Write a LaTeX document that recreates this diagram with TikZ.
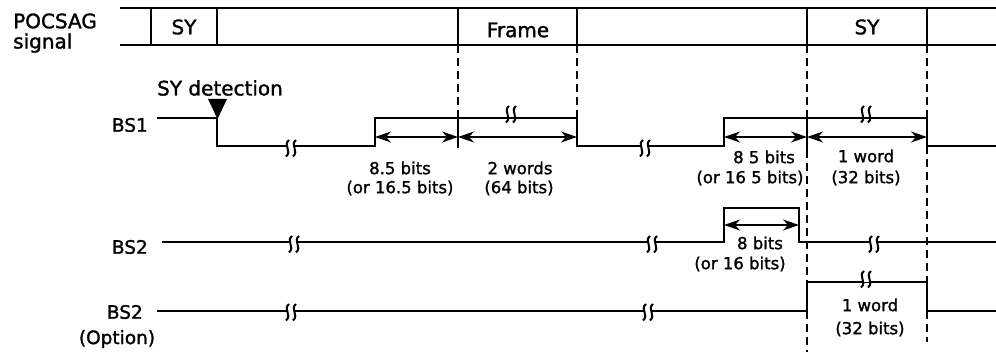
\documentclass[tikz,border=0pt]{standalone}
\usepackage{fontspec}
\setmainfont{DejaVu Sans}[FakeBold=1.4]
\usetikzlibrary{arrows.meta}
\begin{document}
\begin{tikzpicture}[x=1pt,y=-1pt,
  sig/.style={line width=2.1pt},
  band/.style={line width=1.9pt},
  dsh/.style={line width=1.7pt, dash pattern=on 8pt off 5pt},
  dim/.style={line width=1.6pt,{Stealth[length=16pt,width=11pt,inset=5pt]}-{Stealth[length=16pt,width=11pt,inset=5pt]}},
  big/.style={font=\fontsize{20}{22}\selectfont, inner sep=0pt},
  mid/.style={font=\fontsize{18.5}{20}\selectfont, inner sep=0pt},
  lab/.style={font=\fontsize{16.5}{18}\selectfont, inner sep=0pt},
  brk/.pic={\fill[white] (-4,-3.5) rectangle (4,3.5);
    \draw[line width=2pt] (-2,-8) .. controls (-8.5,-3) and (1.5,3) .. (-5,8.5);
    \draw[line width=2pt] (5,-8) .. controls (-1.5,-3) and (8.5,3) .. (2,8.5);}
]
\useasboundingbox (0,0) rectangle (996,352);

% ---------- POCSAG band ----------
\coordinate (tl) at (120,8);  \coordinate (tr) at (996,8);
\coordinate (bl) at (120,45); \coordinate (br) at (996,45);
\draw[band] (tl) -- (tr);
\draw[band] (bl) -- (br);
\foreach \x in {151,217,458,577,807,927} \draw[band] (\x,8) -- (\x,45);

\node[big,anchor=west] (pocsag) at (13,21) {POCSAG};
\node[big,anchor=west] (signal) at (13,43) {signal};
\node[big] (sy1) at (184,27) {SY};
\node[big] (frame) at (518,30) {Frame};
\node[big] (sy2) at (867,27) {SY};

% ---------- dashed guides ----------
\draw[dsh] (458,45) -- (458,118);
\draw[dsh] (577,45) -- (577,118);
\draw[dsh] (807,45) -- (807,118);
\draw[dsh] (807,150) -- (807,282);
\draw[dsh] (807,311) -- (807,352);
\draw[dsh] (927,45) -- (927,118);
\draw[dsh] (927,146) -- (927,282);
\draw[dsh] (927,311) -- (927,342);
\draw[band] (458,118) -- (458,148);
\draw[band] (807,118) -- (807,150);

% ---------- BS1 ----------
\node[mid,anchor=east] (bs1) at (148,125) {BS1};
\node[big] (sydet) at (220,88) {SY detection};
\coordinate (b1a) at (157,118);
\draw[sig] (b1a) -- (217,118) -- (217,146) -- (375,146) -- (375,118) -- (577,118)
  -- (577,146) -- (724,146) -- (724,118) -- (927,118) -- (927,146) -- (996,146);
\fill (208,99) -- (227,99) -- (217.5,119) -- cycle;
\pic at (291,148) {brk};
\pic at (511,114) {brk};
\pic at (645,148) {brk};
\pic at (866,114) {brk};

\draw[dim] (375,137) -- (458,137);
\draw[dim] (458,137) -- (577,137);
\draw[dim] (724,137) -- (807,137);
\draw[dim] (807,137) -- (927,137);

\node[lab] (l1a) at (400,168) {8.5 bits};
\node[lab] (l1b) at (400,188) {(or 16.5 bits)};
\node[lab] (l2a) at (520,168) {2 words};
\node[lab] (l2b) at (519,188) {(64 bits)};
\node[lab] (l3a) at (764,157) {8 5 bits};
\node[lab] (l3b) at (750,178) {(or 16 5 bits)};
\node[lab] (l4a) at (866,156) {1 word};
\node[lab] (l4b) at (866,178) {(32 bits)};

% ---------- BS2 ----------
\node[mid,anchor=east] (bs2) at (148,247) {BS2};
\coordinate (b2a) at (162,242);
\draw[sig] (b2a) -- (724,242) -- (724,208) -- (799,208) -- (799,242) -- (996,242);
\pic at (294,244) {brk};
\pic at (652,244) {brk};
\pic at (874,244) {brk};
\draw[dim] (724,225) -- (799,225);
\node[lab] (l5a) at (760,243) {8 bits};
\node[lab] (l5b) at (740,264) {(or 16 bits)};

% ---------- BS2 (Option) ----------
\node[mid,anchor=east] (bs3) at (143,312) {BS2};
\node[mid] (opt) at (117,339) {(Option)};
\coordinate (b3a) at (157,311);
\draw[sig] (b3a) -- (807,311) -- (807,282) -- (927,282) -- (927,311) -- (996,311);
\pic at (291,312) {brk};
\pic at (648,312) {brk};
\pic at (866,279) {brk};
\node[lab] (l6a) at (870,305) {1 word};
\node[lab] (l6b) at (870,329) {(32 bits)};
\end{tikzpicture}
\end{document}
